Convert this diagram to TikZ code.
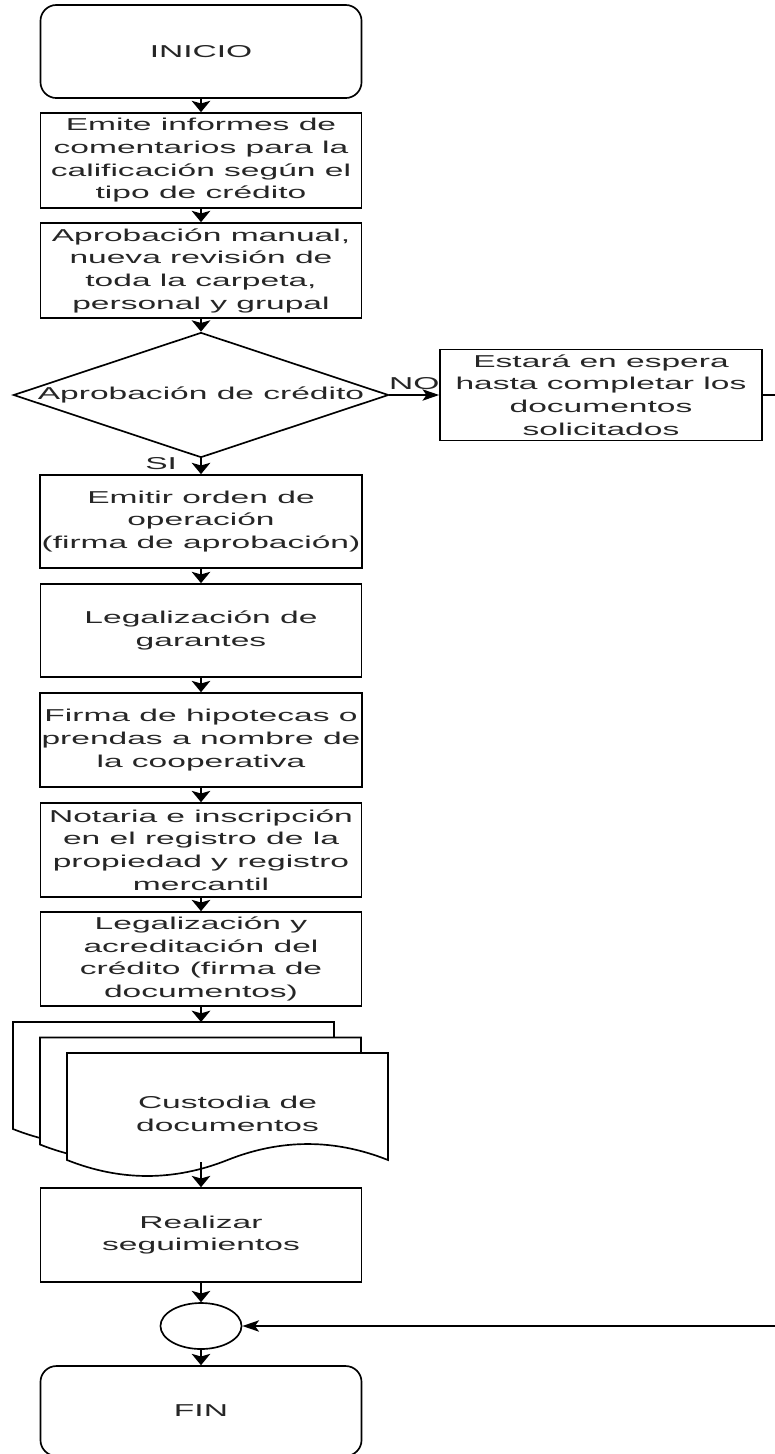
\documentclass[tikz,border=0pt]{standalone}
\usepackage{fontspec}
\setmainfont{Liberation Sans}[FakeStretch=1.95]
\usetikzlibrary{arrows.meta}
\usetikzlibrary{shapes.geometric}

\begin{document}
\begin{tikzpicture}[x=0.75pt,y=-0.75pt,
  every node/.style={font=\fontsize{12.9}{17}\selectfont, text=black!85, align=center},
  proc/.style={draw, line width=1.25pt, fill=white, minimum width=240.8pt, minimum height=70.5pt, inner sep=1pt},
  term/.style={proc, rounded corners=12pt},
  decision/.style={draw, diamond, line width=1.25pt, minimum width=281.3pt, minimum height=93.8pt, inner sep=0pt},
  joint/.style={draw, ellipse, line width=1.25pt, minimum width=60.8pt, minimum height=34.5pt, inner sep=0pt},
  arrdown/.style={line width=1.25pt, -{Stealth[length=8.5pt,width=14pt,inset=2pt]}},
  arrside/.style={line width=1.25pt, -{Stealth[length=12.5pt,width=8.5pt,inset=3pt]}},
  sheet/.style={draw, line width=1.25pt, fill=white}]
  \useasboundingbox (0,0) rectangle (775,1454);

  \node (inicio) [term, minimum height=69.8pt] at (201,51.5) {INICIO};
  \node (emite) [proc, minimum height=71.3pt] at (201,160.5) {Emite informes de\\comentarios para la\\calificación según el\\tipo de crédito};
  \node (manual) [proc, minimum height=71.3pt] at (201,270.5) {Aprobación manual,\\nueva revisión de\\toda la carpeta,\\personal y grupal};
  \node (aprob) [decision] at (201,395) {};
  \node (aprobtxt) at (aprob.center) {Aprobación de crédito};
  \node (espera) [proc, minimum width=241.5pt, minimum height=68.3pt] at (601,395) {Estará en espera\\hasta completar los\\documentos\\solicitados};
  \node (orden) [proc, minimum height=69.8pt] at (201,521.5) {Emitir orden de\\operación\\(firma de aprobación)};
  \node (garantes) [proc, minimum height=69.8pt] at (201,630.5) {Legalización de\\garantes};
  \node (hipotecas) [proc] at (201,740) {Firma de hipotecas o\\prendas a nombre de\\la cooperativa};
  \node (notaria) [proc] at (201,850) {Notaria e inscripción\\en el registro de la\\propiedad y registro\\mercantil};
  \node (legal) [proc] at (201,959) {Legalización y\\acreditación del\\crédito (firma de\\documentos)};

  % pila de documentos
  \draw[sheet] (13,1022) -- (334,1022) -- (334,1129)
    .. controls +(-53.5,-21.3) and +(53.5,-21.3) .. (173.5,1129)
    .. controls +(-53.5,21.3) and +(53.5,21.3) .. (13,1129) -- cycle;
  \draw[sheet] (40,1037.5) -- (361,1037.5) -- (361,1144.5)
    .. controls +(-53.5,-21.3) and +(53.5,-21.3) .. (200.5,1144.5)
    .. controls +(-53.5,21.3) and +(53.5,21.3) .. (40,1144.5) -- cycle;
  \draw[sheet] (67,1053) -- (388,1053) -- (388,1160)
    .. controls +(-53.5,-21.3) and +(53.5,-21.3) .. (227.5,1160)
    .. controls +(-53.5,21.3) and +(53.5,21.3) .. (67,1160) -- cycle;
  \node (custodia) at (227.5,1114) {Custodia de\\documentos};
  \coordinate (docin) at (201,1022);
  \coordinate (docout) at (201,1162);

  \node (seguim) [proc] at (201,1235) {Realizar\\seguimientos};
  \node (union) [joint] at (201,1326) {};
  \node (fin) [term, minimum height=67.5pt] at (201,1411) {FIN};
  \coordinate (rt) at (781,395);

  \draw[arrdown] (inicio) -- (emite);
  \draw[arrdown] (emite) -- (manual);
  \draw[arrdown] (manual) -- (aprob);
  \draw[arrside] (aprob) -- node[midway, above] (no) {NO} (espera);
  \draw[arrdown] (aprob) -- node[pos=0.3, left=14pt] (si) {SI} (orden);
  \draw[arrdown] (orden) -- (garantes);
  \draw[arrdown] (garantes) -- (hipotecas);
  \draw[arrdown] (hipotecas) -- (notaria);
  \draw[arrdown] (notaria) -- (legal);
  \draw[arrdown] (legal) -- (docin);
  \draw[arrdown] (docout) -- (seguim);
  \draw[arrdown] (seguim) -- (union);
  \draw[arrdown] (union) -- (fin);
  \draw[arrside] (espera) -- (rt) |- (union);
\end{tikzpicture}
\end{document}
